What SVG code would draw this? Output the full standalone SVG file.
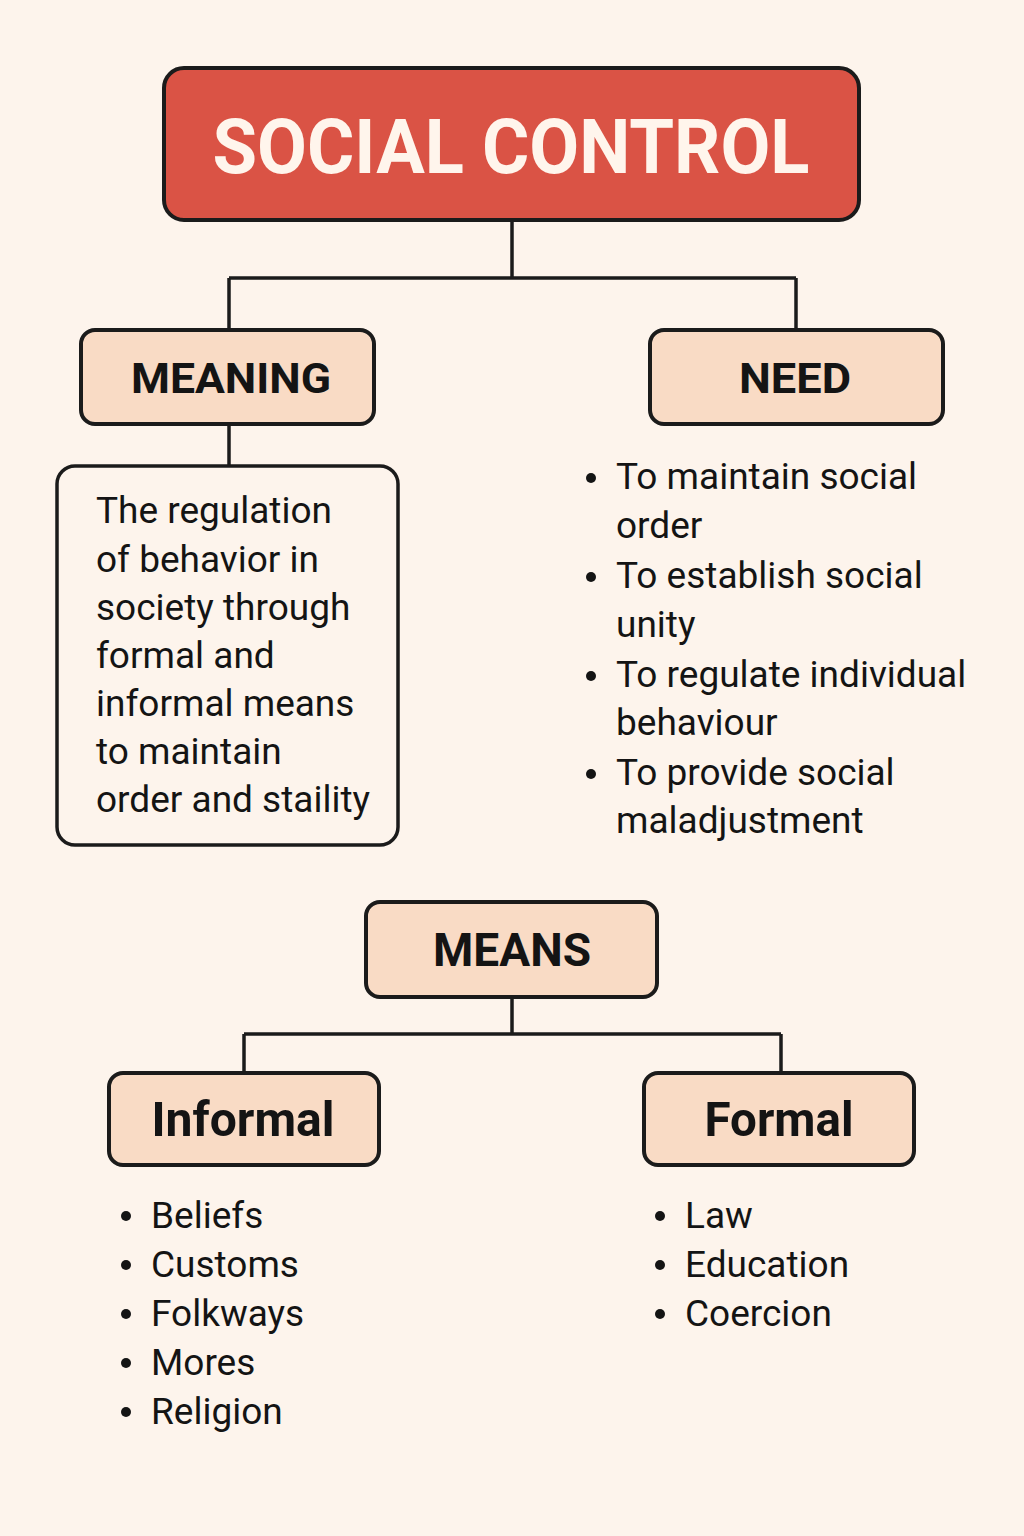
<svg xmlns="http://www.w3.org/2000/svg" width="1024" height="1536" viewBox="0 0 1024 1536">
<style>
.bg{fill:#FDF4EC}
.box{fill:#F9DBC5;stroke:#1B1B1B;stroke-width:4}
.title{fill:#DA5345;stroke:#1B1B1B;stroke-width:4}
.plain{fill:#FDF4EC;stroke:#1B1B1B;stroke-width:3.5}
.conn{fill:none;stroke:#1B1B1B;stroke-width:3.5}
.lbl{font-family:Roboto,"Noto Sans",sans-serif;font-weight:bold;fill:#141414;text-anchor:middle}
.ttl{font-family:Roboto,"Noto Sans",sans-serif;font-weight:bold;fill:#FFF5EC;text-anchor:middle;font-size:76px}
.body{font-family:Roboto,"Noto Sans",sans-serif;font-size:37px;fill:#141414}
.dot{fill:#141414}
</style>
<rect class="bg" x="0" y="0" width="1024" height="1536"/>
<g id="connectors">
<path class="conn" d="M512 220 V278 M229 278 H796 M229 278 V330 M796 278 V330"/>
<path class="conn" d="M229 424 V466"/>
<path class="conn" d="M512 997 V1034 M244 1034 H781 M244 1034 V1073 M781 1034 V1073"/>
</g>
<g id="social-control">
<rect class="title" x="164" y="68" width="695" height="152" rx="20"/>
<text class="ttl" x="511" y="173" textLength="597" lengthAdjust="spacingAndGlyphs">SOCIAL CONTROL</text>
</g>
<g id="meaning">
<rect class="box" x="81" y="330" width="293" height="94" rx="14"/>
<text class="lbl" x="231" y="393" font-size="43" textLength="200" lengthAdjust="spacingAndGlyphs">MEANING</text>
</g>
<g id="need">
<rect class="box" x="650" y="330" width="293" height="94" rx="14"/>
<text class="lbl" x="795" y="393" font-size="43" textLength="112" lengthAdjust="spacingAndGlyphs">NEED</text>
</g>
<g id="meaning-text">
<rect class="plain" x="57" y="466" width="341" height="379" rx="18"/>
<text class="body" x="96" y="523">The regulation</text>
<text class="body" x="96" y="572">of behavior in</text>
<text class="body" x="96" y="620">society through</text>
<text class="body" x="96" y="668">formal and</text>
<text class="body" x="96" y="716">informal means</text>
<text class="body" x="96" y="764">to maintain</text>
<text class="body" x="96" y="812">order and staility</text>
</g>
<g id="need-list">
<circle class="dot" cx="591" cy="478" r="5"/>
<text class="body" x="616" y="489">To maintain social</text>
<text class="body" x="616" y="538">order</text>
<circle class="dot" cx="591" cy="577" r="5"/>
<text class="body" x="616" y="588">To establish social</text>
<text class="body" x="616" y="637">unity</text>
<circle class="dot" cx="591" cy="676" r="5"/>
<text class="body" x="616" y="687">To regulate individual</text>
<text class="body" x="616" y="735">behaviour</text>
<circle class="dot" cx="591" cy="774" r="5"/>
<text class="body" x="616" y="785">To provide social</text>
<text class="body" x="616" y="833">maladjustment</text>
</g>
<g id="means">
<rect class="box" x="366" y="902" width="291" height="95" rx="14"/>
<text class="lbl" x="512" y="966" font-size="46" textLength="158" lengthAdjust="spacingAndGlyphs">MEANS</text>
</g>
<g id="informal">
<rect class="box" x="109" y="1073" width="270" height="92" rx="14"/>
<text class="lbl" x="243" y="1136" font-size="49" textLength="183" lengthAdjust="spacingAndGlyphs">Informal</text>
</g>
<g id="formal">
<rect class="box" x="644" y="1073" width="270" height="92" rx="14"/>
<text class="lbl" x="779" y="1136" font-size="49" textLength="149" lengthAdjust="spacingAndGlyphs">Formal</text>
</g>
<g id="informal-list">
<circle class="dot" cx="126" cy="1216" r="5"/>
<text class="body" x="151" y="1228">Beliefs</text>
<circle class="dot" cx="126" cy="1265" r="5"/>
<text class="body" x="151" y="1277">Customs</text>
<circle class="dot" cx="126" cy="1314" r="5"/>
<text class="body" x="151" y="1326">Folkways</text>
<circle class="dot" cx="126" cy="1363" r="5"/>
<text class="body" x="151" y="1375">Mores</text>
<circle class="dot" cx="126" cy="1412" r="5"/>
<text class="body" x="151" y="1424">Religion</text>
</g>
<g id="formal-list">
<circle class="dot" cx="660" cy="1216" r="5"/>
<text class="body" x="685" y="1228">Law</text>
<circle class="dot" cx="660" cy="1265" r="5"/>
<text class="body" x="685" y="1277">Education</text>
<circle class="dot" cx="660" cy="1314" r="5"/>
<text class="body" x="685" y="1326">Coercion</text>
</g>
</svg>
